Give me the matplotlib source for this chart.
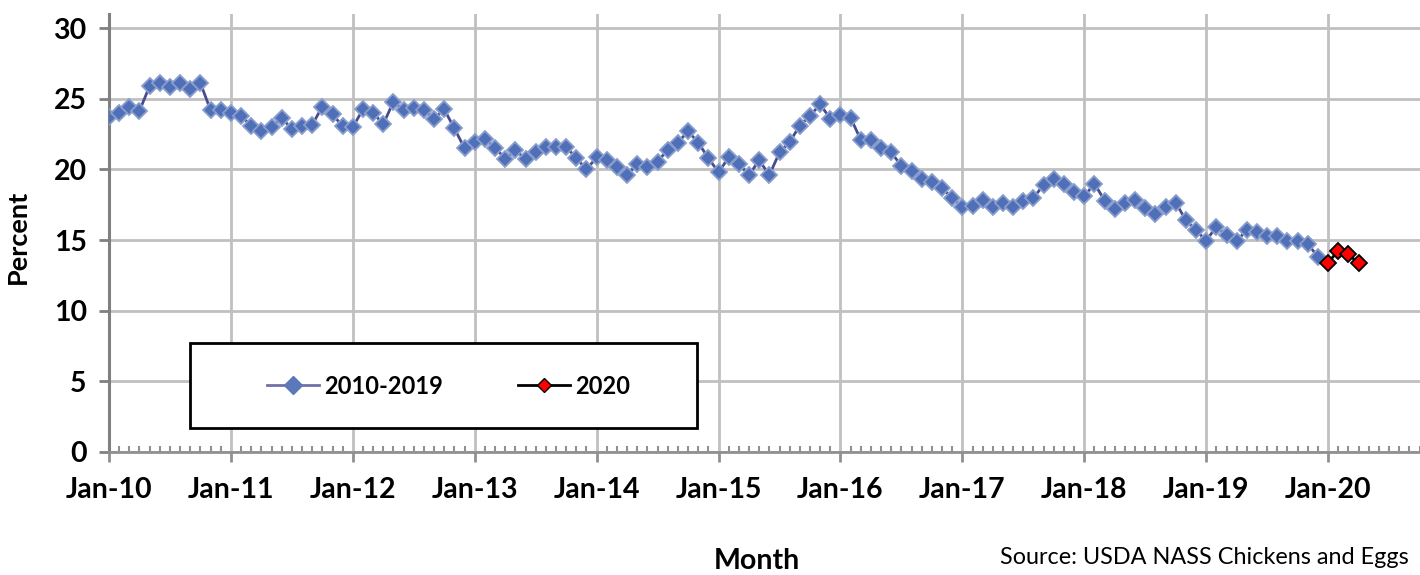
import matplotlib
matplotlib.use("Agg")
import matplotlib.pyplot as plt
from matplotlib.lines import Line2D
from matplotlib.patches import Rectangle
import numpy as np

plt.rcParams['font.family'] = ['Lato', 'DejaVu Sans']

# Monthly values (percent), Jan-2010 .. Dec-2019
y2010 = [23.7, 24.0, 24.4, 24.15, 25.9, 26.1, 25.85, 26.1, 25.7, 26.1, 24.2, 24.2]
y2011 = [24.0, 23.8, 23.1, 22.7, 23.0, 23.65, 22.85, 23.1, 23.15, 24.45, 23.9, 23.05]
y2012 = [23.0, 24.25, 24.0, 23.2, 24.8, 24.2, 24.35, 24.2, 23.6, 24.25, 22.9, 21.5]
y2013 = [21.95, 22.15, 21.55, 20.75, 21.35, 20.75, 21.2, 21.6, 21.6, 21.6, 20.8, 20.0]
y2014 = [20.85, 20.65, 20.2, 19.6, 20.4, 20.2, 20.55, 21.4, 21.9, 22.7, 21.9, 20.8]
y2015 = [19.8, 20.85, 20.4, 19.6, 20.65, 19.6, 21.2, 21.95, 23.1, 23.8, 24.6, 23.6]
y2016 = [23.85, 23.65, 22.1, 22.1, 21.55, 21.2, 20.25, 19.9, 19.35, 19.1, 18.7, 17.95]
y2017 = [17.35, 17.4, 17.85, 17.35, 17.6, 17.35, 17.8, 18.0, 18.9, 19.3, 18.95, 18.4]
y2018 = [18.1, 19.0, 17.8, 17.2, 17.6, 17.85, 17.25, 16.85, 17.35, 17.65, 16.4, 15.7]
y2019 = [14.95, 15.95, 15.35, 14.95, 15.7, 15.6, 15.3, 15.3, 14.95, 14.95, 14.75, 13.8]
# Jan-2020 .. Apr-2020
y2020 = [13.4, 14.25, 14.0, 13.35]

series_hist = y2010 + y2011 + y2012 + y2013 + y2014 + y2015 + y2016 + y2017 + y2018 + y2019
year_labels = ['Jan-10', 'Jan-11', 'Jan-12', 'Jan-13', 'Jan-14', 'Jan-15',
               'Jan-16', 'Jan-17', 'Jan-18', 'Jan-19', 'Jan-20']
y_ticks = [0, 5, 10, 15, 20, 25, 30]
label_hist = '2010-2019'
label_2020 = '2020'

W, H = 1420, 575
fig = plt.figure(figsize=(W / 100, H / 100), dpi=100)

x0, x_end = 109, 1450
y0, ytop = 452, 14
ax = fig.add_axes([x0 / W, (H - y0) / H, (x_end - x0) / W, (y0 - ytop) / H])

x_hist = np.arange(len(series_hist))
x_2020 = np.arange(len(series_hist), len(series_hist) + len(y2020))

ax.plot(x_hist, series_hist, color='#474c90', lw=2.0, marker='D', markersize=8.5,
        markerfacecolor='#4f70b8', markeredgecolor='#8a9dcc', markeredgewidth=1.3, zorder=3)
ax.plot(x_2020, y2020, color='black', lw=2.0, marker='D', markersize=8,
        markerfacecolor='#ff0000', markeredgecolor='black', markeredgewidth=1.3, zorder=4)

ax.set_xlim(0, 132)
ax.set_ylim(0, 31)
ax.set_yticks(y_ticks)
ax.set_yticklabels([str(v) for v in y_ticks])
ax.set_xticks(np.arange(0, 12 * len(year_labels), 12))
ax.set_xticklabels(year_labels)
ax.set_xticks(np.arange(0, 133, 1), minor=True)

for lab in ax.get_xticklabels() + ax.get_yticklabels():
    lab.set_fontweight('bold')
    lab.set_fontsize(20.5)

ax.grid(True, which='major', color='#c0c0c0', lw=2.0, zorder=0)
ax.set_axisbelow(True)

for s in ['top', 'right']:
    ax.spines[s].set_visible(False)
ax.spines['left'].set_color('#808080')
ax.spines['left'].set_linewidth(2.2)
ax.spines['bottom'].set_color('#909090')
ax.spines['bottom'].set_linewidth(2.0)

ax.tick_params(axis='y', which='major', direction='out', length=7, width=2, color='#808080', pad=9)
ax.tick_params(axis='x', which='major', direction='out', length=7, width=2, color='#909090', pad=11)
ax.tick_params(axis='x', which='minor', direction='in', length=4, width=1.5, color='#909090')
ax.tick_params(axis='y', which='minor', length=0)

# Legend: frame drawn as a rectangle, entries via legend
lx0, ly0, lx1, ly1 = 190, 343, 697, 428
fig.patches.append(Rectangle((lx0 / W, 1 - ly1 / H), (lx1 - lx0) / W, (ly1 - ly0) / H,
                             transform=fig.transFigure, facecolor='white',
                             edgecolor='black', lw=2, zorder=5))
handles = [
    Line2D([], [], color='#7070a8', lw=2, marker='D', markersize=9,
           markerfacecolor='#5b79b8', markeredgecolor='#5b79b8'),
    Line2D([], [], color='black', lw=2, marker='D', markersize=7,
           markerfacecolor='#ff0000', markeredgecolor='black'),
]
leg = fig.legend(handles, [label_hist, label_2020], loc='center',
                 bbox_to_anchor=(448.5 / W, 1 - 386 / H),
                 ncol=2, frameon=False, borderpad=0,
                 handlelength=2.2, handletextpad=0.2, columnspacing=3.2,
                 prop={'weight': 'bold', 'size': 17})
leg.set_zorder(6)

fig.text(18 / W, 1 - 237 / H, 'Percent', rotation=90, ha='center', va='center',
         fontsize=19.5, fontweight='bold')
fig.text(757 / W, 1 - 561 / H, 'Month', ha='center', va='center',
         fontsize=20.5, fontweight='bold')
fig.text(1000 / W, 1 - 557 / H, 'Source: USDA NASS Chickens and Eggs', ha='left', va='center',
         fontsize=16.8)

fig.savefig('out.png', dpi=100)
